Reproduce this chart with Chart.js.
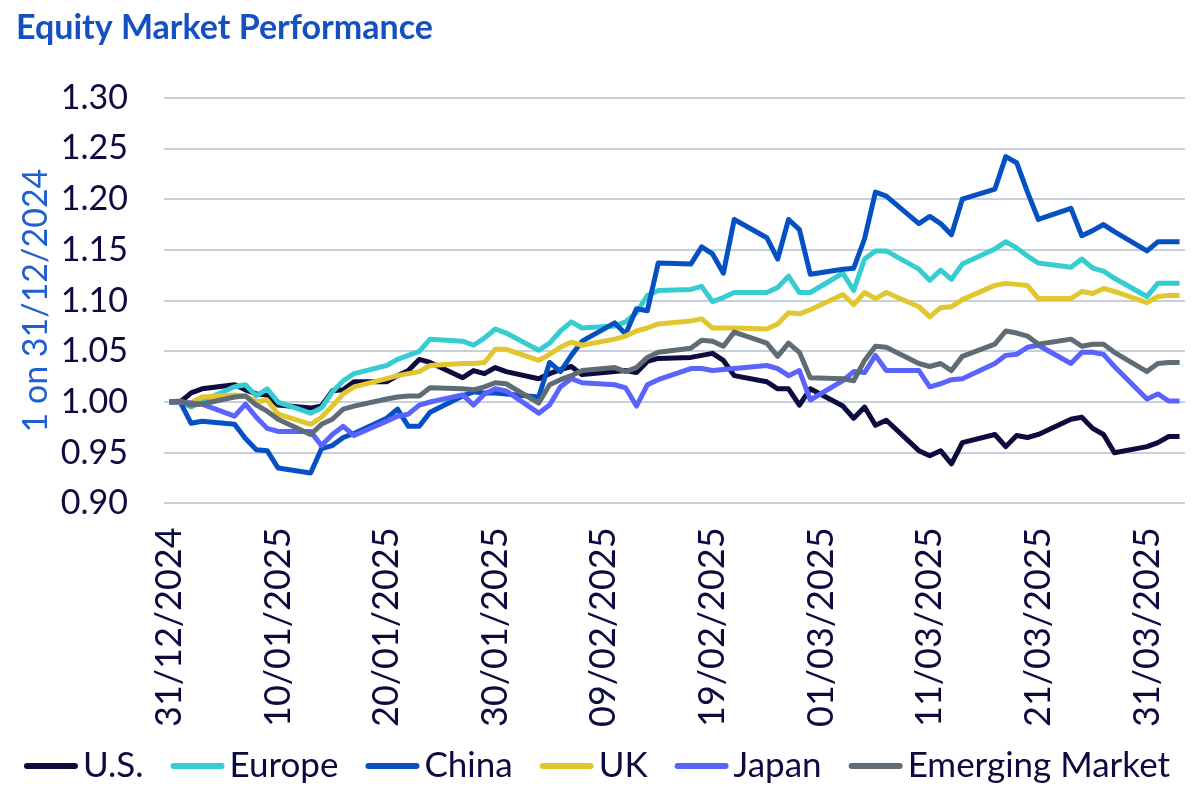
<!DOCTYPE html>
<html>
<head>
<meta charset="utf-8">
<title>Equity Market Performance</title>
<script src="https://cdn.jsdelivr.net/npm/chart.js@4.4.1/dist/chart.umd.min.js"></script>
<style>
  html, body { margin: 0; padding: 0; background: #ffffff; }
  #wrap { width: 1200px; height: 801px; position: relative; }
</style>
</head>
<body>
<div id="wrap"><canvas id="perf"></canvas></div>
<script>
// trading days (business days only), values are index levels rebased to 1 on 31/12/2024
const tradingDays = [
  "31/12/2024", "01/01/2025", "02/01/2025", "03/01/2025", "06/01/2025", "07/01/2025", "08/01/2025", "09/01/2025", "10/01/2025",
  "13/01/2025", "14/01/2025", "15/01/2025", "16/01/2025", "17/01/2025",
  "20/01/2025", "21/01/2025", "22/01/2025", "23/01/2025", "24/01/2025",
  "27/01/2025", "28/01/2025", "29/01/2025", "30/01/2025", "31/01/2025",
  "03/02/2025", "04/02/2025", "05/02/2025", "06/02/2025", "07/02/2025",
  "10/02/2025", "11/02/2025", "12/02/2025", "13/02/2025", "14/02/2025",
  "17/02/2025", "18/02/2025", "19/02/2025", "20/02/2025", "21/02/2025",
  "24/02/2025", "25/02/2025", "26/02/2025", "27/02/2025", "28/02/2025",
  "03/03/2025", "04/03/2025", "05/03/2025", "06/03/2025", "07/03/2025",
  "10/03/2025", "11/03/2025", "12/03/2025", "13/03/2025", "14/03/2025",
  "17/03/2025", "18/03/2025", "19/03/2025", "20/03/2025", "21/03/2025",
  "24/03/2025", "25/03/2025", "26/03/2025", "27/03/2025", "28/03/2025",
  "31/03/2025", "01/04/2025", "02/04/2025", "03/04/2025",
];

const usValues = [
  1.000, 1.000, 1.009, 1.013, 1.017, 1.012, 1.008, 1.007, 0.997,
  0.994, 0.996, 1.011, 1.012, 1.020,
  1.020, 1.026, 1.031, 1.042, 1.039,
  1.024, 1.031, 1.028, 1.034, 1.030,
  1.023, 1.028, 1.032, 1.035, 1.027,
  1.030, 1.031, 1.029, 1.040, 1.043,
  1.044, 1.046, 1.048, 1.041, 1.026,
  1.020, 1.013, 1.013, 0.997, 1.013,
  0.996, 0.984, 0.995, 0.977, 0.982,
  0.952, 0.947, 0.952, 0.939, 0.960,
  0.968, 0.956, 0.967, 0.965, 0.968,
  0.983, 0.985, 0.974, 0.968, 0.950,
  0.956, 0.960, 0.966, 0.966,
];
const europeValues = [
  1.000, 1.000, 0.995, 1.001, 1.015, 1.017, 1.006, 1.013, 1.000,
  0.989, 0.994, 1.010, 1.021, 1.028,
  1.036, 1.042, 1.046, 1.050, 1.062,
  1.060, 1.056, 1.063, 1.072, 1.068,
  1.051, 1.058, 1.070, 1.079, 1.073,
  1.075, 1.079, 1.088, 1.105, 1.110,
  1.111, 1.114, 1.099, 1.103, 1.108,
  1.108, 1.113, 1.124, 1.108, 1.108,
  1.127, 1.110, 1.141, 1.149, 1.149,
  1.131, 1.120, 1.130, 1.121, 1.136,
  1.151, 1.158, 1.152, 1.144, 1.137,
  1.133, 1.141, 1.132, 1.129, 1.122,
  1.104, 1.117, 1.117, 1.117,
];
const chinaValues = [
  1.000, 1.000, 0.979, 0.981, 0.978, 0.964, 0.953, 0.952, 0.935,
  0.930, 0.954, 0.957, 0.965, 0.969,
  0.984, 0.993, 0.976, 0.976, 0.990,
  1.006, 1.010, 1.009, 1.009, 1.008,
  1.005, 1.039, 1.030, 1.046, 1.060,
  1.078, 1.067, 1.092, 1.090, 1.137,
  1.136, 1.153, 1.146, 1.127, 1.180,
  1.162, 1.141, 1.180, 1.170, 1.126,
  1.131, 1.132, 1.161, 1.207, 1.203,
  1.176, 1.183, 1.176, 1.165, 1.200,
  1.210, 1.242, 1.236, 1.207, 1.180,
  1.191, 1.164, 1.169, 1.175, 1.168,
  1.149, 1.158, 1.158, 1.158,
];
const ukValues = [
  1.000, 1.000, 0.999, 1.005, 1.007, 1.006, 1.000, 1.002, 0.988,
  0.978, 0.985, 0.996, 1.008, 1.015,
  1.023, 1.026, 1.028, 1.030, 1.036,
  1.038, 1.038, 1.039, 1.052, 1.052,
  1.041, 1.047, 1.054, 1.059, 1.056,
  1.062, 1.065, 1.070, 1.073, 1.077,
  1.080, 1.082, 1.073, 1.073, 1.073,
  1.072, 1.077, 1.088, 1.087, 1.091,
  1.106, 1.096, 1.108, 1.102, 1.108,
  1.094, 1.084, 1.093, 1.094, 1.101,
  1.115, 1.117, 1.116, 1.115, 1.102,
  1.102, 1.109, 1.107, 1.112, 1.109,
  1.098, 1.104, 1.105, 1.105,
];
const japanValues = [
  1.000, 1.000, 0.999, 0.998, 0.986, 0.998, 0.985, 0.974, 0.971,
  0.971, 0.957, 0.968, 0.976, 0.967,
  0.981, 0.986, 0.988, 0.997, 1.000,
  1.007, 0.997, 1.008, 1.013, 1.011,
  0.989, 0.997, 1.015, 1.023, 1.019,
  1.017, 1.014, 0.996, 1.017, 1.022,
  1.033, 1.033, 1.031, 1.032, 1.033,
  1.036, 1.033, 1.026, 1.031, 1.002,
  1.021, 1.030, 1.029, 1.046, 1.031,
  1.031, 1.015, 1.018, 1.022, 1.023,
  1.038, 1.046, 1.047, 1.054, 1.056,
  1.038, 1.049, 1.049, 1.047, 1.035,
  1.003, 1.008, 1.001, 1.001,
];
const emValues = [
  1.000, 1.001, 0.997, 0.998, 1.005, 1.006, 0.997, 0.991, 0.983,
  0.968, 0.978, 0.983, 0.993, 0.996,
  1.003, 1.005, 1.006, 1.006, 1.014,
  1.013, 1.012, 1.015, 1.019, 1.018,
  0.999, 1.017, 1.022, 1.026, 1.031,
  1.034, 1.030, 1.034, 1.044, 1.049,
  1.053, 1.061, 1.060, 1.055, 1.069,
  1.058, 1.045, 1.058, 1.049, 1.024,
  1.023, 1.021, 1.041, 1.055, 1.054,
  1.038, 1.035, 1.038, 1.031, 1.045,
  1.057, 1.070, 1.068, 1.065, 1.057,
  1.062, 1.055, 1.057, 1.057, 1.049,
  1.030, 1.038, 1.039, 1.039,
];

// date labels shown under the axis (one every 10 calendar days)
const tickLabels = [
  "31/12/2024", "10/01/2025", "20/01/2025", "30/01/2025", "09/02/2025",
  "19/02/2025", "01/03/2025", "11/03/2025", "21/03/2025", "31/03/2025",
];
const seriesNames = ["U.S.", "Europe", "China", "UK", "Japan", "Emerging Market"];
const seriesColors = ["#0c0a3f", "#35cdd2", "#0550c3", "#e2c630", "#5a63fb", "#606c74"];
const seriesValues = [usValues, europeValues, chinaValues, ukValues, japanValues, emValues];

const textColor = "#0c0a3f";
const fontFamily = "Lato, 'Open Sans', sans-serif";

// calendar axis: every day from first to last trading day
function buildCalendar(first, last) {
  const toDate = (s) => {
    const [d, m, y] = s.split("/").map(Number);
    return new Date(Date.UTC(y, m - 1, d));
  };
  const pad = (n) => String(n).padStart(2, "0");
  const out = [];
  for (let t = toDate(first); t <= toDate(last); t = new Date(t.getTime() + 86400000)) {
    out.push(`${pad(t.getUTCDate())}/${pad(t.getUTCMonth() + 1)}/${t.getUTCFullYear()}`);
  }
  return out;
}
const calendarDays = buildCalendar(tradingDays[0], tradingDays[tradingDays.length - 1]);

// legend drawn in one row under the axis: short line marker, then the name
const lineLegend = {
  id: "lineLegend",
  afterDraw(chart) {
    const ctx = chart.ctx;
    const markLen = 54, markGap = 5, itemGap = 27, y = 766;
    ctx.save();
    ctx.font = `35px ${fontFamily}`;
    const widths = chart.data.datasets.map((ds) => ctx.measureText(ds.label).width);
    const total = widths.reduce((a, w) => a + markLen + markGap + w, 0) + itemGap * (widths.length - 1);
    let x = 597 - total / 2;
    chart.data.datasets.forEach((ds, i) => {
      ctx.strokeStyle = ds.borderColor;
      ctx.lineWidth = 6;
      ctx.lineCap = "round";
      ctx.beginPath();
      ctx.moveTo(x + 3, y);
      ctx.lineTo(x + markLen - 3, y);
      ctx.stroke();
      ctx.fillStyle = textColor;
      ctx.textBaseline = "middle";
      ctx.textAlign = "left";
      ctx.fillText(ds.label, x + markLen + markGap, y);
      x += markLen + markGap + widths[i] + itemGap;
    });
    ctx.restore();
  },
};

Chart.defaults.font.family = fontFamily;
Chart.defaults.color = textColor;

const datasets = seriesNames.map((name, i) => ({
  label: name,
  data: tradingDays.map((d, k) => ({ x: d, y: seriesValues[i][k] })),
  borderColor: seriesColors[i],
  backgroundColor: seriesColors[i],
  borderWidth: 5,
  pointRadius: 0,
  tension: 0,
  borderJoinStyle: "round",
  order: seriesNames.length - i, // later series sit on top, as in the original
}));

new Chart(document.getElementById("perf"), {
  type: "line",
  data: { labels: calendarDays, datasets },
  plugins: [lineLegend],
  options: {
    responsive: true,
    maintainAspectRatio: false,
    animation: false,
    layout: { padding: { left: 16, right: 15, top: 2, bottom: 72 } },
    scales: {
      x: {
        type: "category",
        offset: true,
        grid: { display: false, drawTicks: true, tickLength: 22 },
        border: { display: false },
        // the rotated labels need no side room; let the plot run to the right edge
        afterFit: (scale) => {
          scale.paddingLeft = 0;
          scale.paddingRight = 0;
        },
        ticks: {
          autoSkip: false,
          minRotation: 90,
          maxRotation: 90,
          padding: 2,
          color: textColor,
          font: { size: 36 },
          callback: function (value) {
            const lab = this.getLabelForValue(value);
            return tickLabels.includes(lab) ? lab : "";
          },
        },
      },
      y: {
        min: 0.9,
        max: 1.3,
        border: { display: false },
        grid: { color: "#c7d0da", lineWidth: 2, drawTicks: true, tickLength: 32, tickColor: "rgba(0,0,0,0)" },
        ticks: {
          stepSize: 0.05,
          autoSkip: false,
          padding: 4,
          color: textColor,
          font: { size: 34 },
          callback: (v) => v.toFixed(2),
        },
        title: {
          display: true,
          text: "1 on 31/12/2024",
          color: "#1f5fcf",
          font: { size: 34 },
          padding: 0,
        },
      },
    },
    plugins: {
      title: {
        display: true,
        text: "Equity Market Performance",
        align: "start",
        color: "#1450c0",
        font: { size: 34, weight: "bold" },
        padding: { top: 6, bottom: 49 },
      },
      legend: { display: false },
      tooltip: { enabled: false },
    },
  },
});
</script>
</body>
</html>
